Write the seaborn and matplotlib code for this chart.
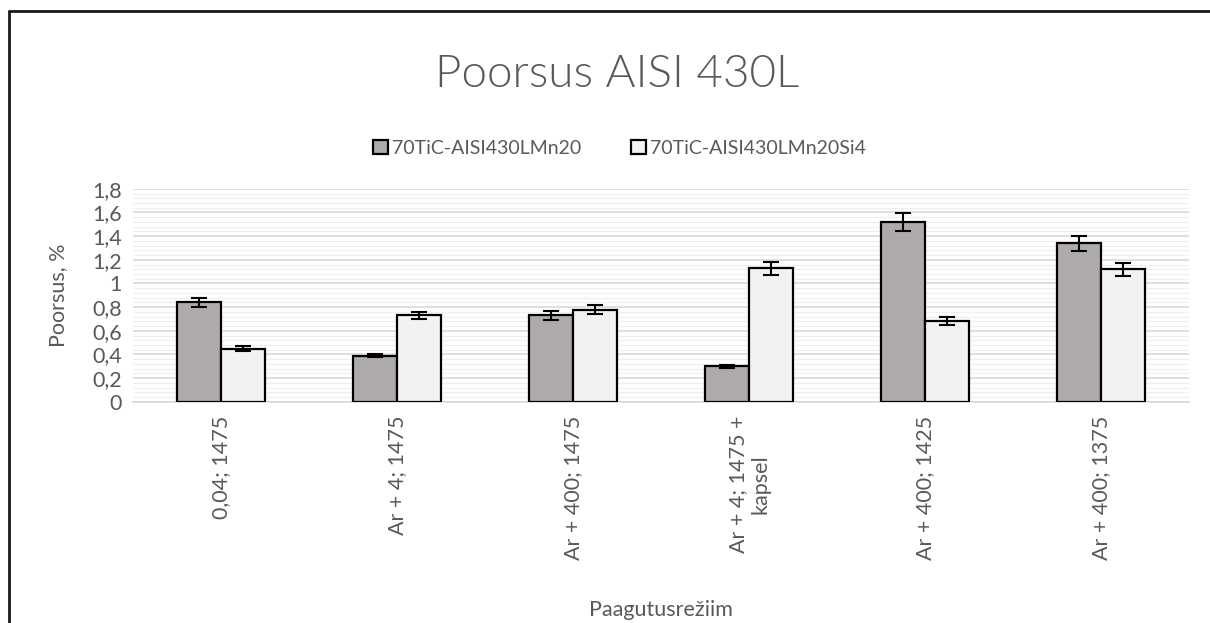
import matplotlib
matplotlib.use('Agg')
from matplotlib import pyplot as plt
from matplotlib.lines import Line2D
from matplotlib.ticker import MultipleLocator
import pandas as pd
import seaborn as sns

categories = ['0,04; 1475', 'Ar + 4; 1475', 'Ar + 400; 1475',
              'Ar + 4; 1475 +\nkapsel', 'Ar + 400; 1425', 'Ar + 400; 1375']
series = ['70TiC-AISI430LMn20', '70TiC-AISI430LMn20Si4']
mn20 = [0.84, 0.39, 0.73, 0.30, 1.52, 1.34]
mn20_err = [0.04, 0.015, 0.035, 0.01, 0.075, 0.065]
mn20si4 = [0.45, 0.73, 0.78, 1.13, 0.68, 1.12]
mn20si4_err = [0.02, 0.03, 0.035, 0.055, 0.035, 0.055]
yticks = [0, 0.2, 0.4, 0.6, 0.8, 1, 1.2, 1.4, 1.6, 1.8]
ytick_labels = ['0', '0,2', '0,4', '0,6', '0,8', '1', '1,2', '1,4', '1,6', '1,8']

sns.set_style('white')
plt.rcParams['font.family'] = ['Lato', 'DejaVu Sans']
txt = '#595959'
colors = ['#aeaaaa', '#f2f2f2']

df = pd.DataFrame({
    'cat': categories * 2,
    'series': [series[0]] * 6 + [series[1]] * 6,
    'value': mn20 + mn20si4,
})
errs = mn20_err + mn20si4_err

fig = plt.figure(figsize=(12.1, 6.23), dpi=100)
ax = fig.add_axes([0.110, 0.355, 0.873, 0.342])

sns.barplot(df, x='cat', y='value', hue='series', order=categories, hue_order=series,
            palette=colors, width=0.5, edgecolor='black', linewidth=1.6, saturation=1,
            errorbar=None, ax=ax, zorder=3)

# error bars on the seaborn bars
bars = [p for p in ax.patches if p.get_height() > 0][:12]
xs = [p.get_x() + p.get_width() / 2 for p in bars]
hs = [p.get_height() for p in bars]
ax.errorbar(xs, hs, yerr=errs, fmt='none', ecolor='black', elinewidth=1.5,
            capsize=6, capthick=1.5, zorder=4)

ax.set_ylim(0, 1.8)
ax.set_xlim(-0.5, 5.5)
ax.set_yticks(yticks, ytick_labels)
ax.yaxis.set_minor_locator(MultipleLocator(0.04))
ax.grid(axis='y', which='major', color='#d9d9d9', linewidth=1.2, zorder=0)
ax.grid(axis='y', which='minor', color='#f0f0f0', linewidth=1.0, zorder=0)
ax.set_axisbelow(True)
for s in ['top', 'right', 'left']:
    ax.spines[s].set_visible(False)
ax.spines['bottom'].set_color('#d9d9d9')
ax.spines['bottom'].set_linewidth(1.2)
ax.tick_params(axis='both', length=0, labelsize=15.5, labelcolor=txt)
ax.tick_params(axis='y', pad=8)
ax.tick_params(axis='x', pad=10)
for lbl in ax.get_xticklabels():
    lbl.set_rotation(90)
    lbl.set_ha('center')
    lbl.set_va('top')
    lbl.set_multialignment('center')

ax.set_xlabel('Paagutusrežiim', fontsize=15.5, color=txt)
ax.xaxis.set_label_coords(0.5, -0.93)
ax.set_ylabel('Poorsus, %', fontsize=15.5, color=txt)
ax.yaxis.set_label_coords(-0.062, 0.5)

handles, labels = ax.get_legend_handles_labels()
ax.legend(handles, labels, ncol=2, frameon=False, fontsize=14, labelcolor=txt,
          loc='center', bbox_to_anchor=(0.512, 0.762), bbox_transform=fig.transFigure,
          handlelength=0.75, handleheight=0.75, handletextpad=0.2, columnspacing=2.6)

fig.text(0.51, 0.88, 'Poorsus AISI 430L', ha='center', va='center', fontsize=33,
         color=txt, fontweight=300)

# outer chart frame (left and top edges visible)
fig.add_artist(Line2D([0.0074, 0.0074], [0, 0.983], transform=fig.transFigure, color='#1a1a1a', lw=2))
fig.add_artist(Line2D([0.0074, 1.0], [0.983, 0.983], transform=fig.transFigure, color='#1a1a1a', lw=2))

fig.savefig('out.png', dpi=100)
